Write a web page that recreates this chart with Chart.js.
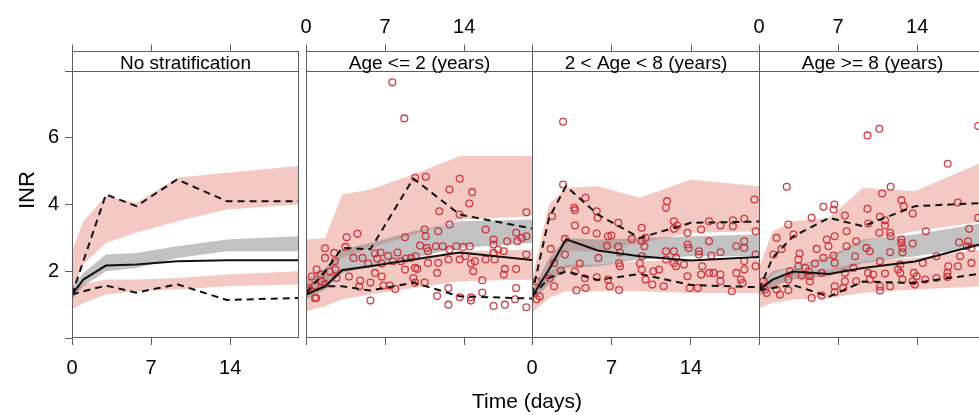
<!DOCTYPE html>
<html>
<head>
<meta charset="utf-8">
<script src="https://cdn.jsdelivr.net/npm/chart.js@4.4.1/dist/chart.umd.min.js"></script>
<style>
  html, body { margin: 0; padding: 0; background: #fff; overflow: hidden; }
  #wrap { position: relative; width: 979px; height: 415px; overflow: hidden;
          font-family: "Liberation Sans", Arial, sans-serif; }
  canvas { position: absolute; top: 0; }
  .ylab { position: absolute; left: 27px; top: 190px; transform: translate(-50%, -50%) rotate(-90deg);
          font-size: 22px; white-space: nowrap; }
  .xlab { position: absolute; left: 527px; top: 401px; transform: translate(-50%, -50%);
          font-size: 21px; white-space: nowrap; }
</style>
</head>
<body>
<div id="wrap">
  <canvas id="p1" width="338" height="415" style="left:0px"></canvas>
  <canvas id="p2" width="306" height="415" style="left:266px"></canvas>
  <canvas id="p3" width="307" height="415" style="left:492px"></canvas>
  <canvas id="p4" width="306" height="415" style="left:719px"></canvas>
  <div class="ylab">INR</div>
  <div class="xlab">Time (days)</div>
</div>
<script>
// axes
const xTicks = [0, 7, 14];
const yTicks = [0, 2, 4, 6, 8];
const yTickLabels = [2, 4, 6];
const panelTitles = ['No stratification', 'Age <= 2 (years)', '2 < Age < 8 (years)', 'Age >= 8 (years)'];

// ===== Panel 1: no stratification =====
const bins1 = [0, 1, 3, 5.7, 9.3, 13.7, 20];
const median1 = [1.3, 1.75, 2.17, 2.2, 2.3, 2.33, 2.33];
const p95obs1 = [1.3, 2.3, 4.3, 3.95, 4.75, 4.1, 4.1];
const p05obs1 = [1.3, 1.4, 1.57, 1.36, 1.61, 1.14, 1.2];
const piHiTop1 = [2.6, 3.5, 4.25, 4.05, 4.8, 4.95, 5.15];
const piHiBot1 = [1.4, 2.2, 2.85, 3.15, 3.5, 3.85, 4.0];
const ciMedTop1 = [1.5, 1.95, 2.5, 2.55, 2.75, 2.95, 3.05];
const ciMedBot1 = [1.15, 1.55, 2.0, 2.1, 2.4, 2.6, 2.6];
const piLoTop1 = [1.5, 1.6, 1.75, 1.75, 1.8, 1.9, 2.0];
const piLoBot1 = [0.85, 1.05, 1.3, 1.4, 1.45, 1.55, 1.6];
const obsDay1 = [];
const obsInr1 = [];

// ===== Panel 2: Age <= 2 =====
const bins2 = [0, 1.7, 3.2, 5.7, 9.5, 13.6, 20];
const median2 = [1.3, 1.55, 2.03, 2.15, 2.35, 2.56, 2.34];
const p95obs2 = [1.35, 2.0, 2.7, 2.66, 4.78, 3.7, 3.28];
const p05obs2 = [1.3, 1.55, 1.55, 1.42, 1.66, 1.25, 1.18];
const piHiTop2 = [2.95, 3.0, 4.3, 4.45, 4.9, 5.45, 5.45];
const piHiBot2 = [1.6, 1.9, 2.4, 2.7, 3.1, 3.55, 3.65];
const ciMedTop2 = [1.75, 2.1, 2.65, 2.85, 3.2, 3.5, 3.55];
const ciMedBot2 = [1.15, 1.45, 1.95, 2.15, 2.4, 2.7, 2.85];
const piLoTop2 = [1.6, 1.9, 2.1, 2.2, 2.4, 2.6, 2.65];
const piLoBot2 = [0.8, 0.95, 1.15, 1.3, 1.5, 1.7, 1.75];
const obsDay2 = [7.64, 8.7, 9.65, 3.6, 4.55, 1.68, 2.5, 3.5, 8.76, 0.94, 1.3, 1.68, 2.55, 2.6, 4.2, 5.0, 5.5, 6.1, 6.6, 6.3,
  6.7, 7.28, 7.7, 8.1, 8.4, 8.85, 9.3, 3.8, 4.8, 4.7, 5.7, 5.7, 6.7, 6.85, 7.4, 7.9, 2.7, 0.8, 0.9, 0.2,
  0.5, 6.1, 8.76, 9.5, 10.6, 13.6, 12.7, 14.7, 14.45, 11.8, 10.5, 12.7, 13.6, 15.9, 19.5, 11.7, 10.6, 10.1, 10.7, 10.8,
  11.5, 12.1, 12.7, 13.3, 13.9, 14.5, 14.95, 16.6, 16.6, 17.0, 17.8, 18.6, 19.1, 19.5, 18.7, 19.5, 17.5, 16.6, 15.9, 16.7,
  9.7, 9.65, 9.85, 10.8, 11.7, 12.6, 13.6, 14.6, 14.8, 14.1, 11.6, 15.6, 17.5, 18.6, 17.6, 18.6, 9.65, 10.5, 11.6, 12.6,
  12.6, 13.6, 14.6, 14.6, 15.6, 16.6, 17.6, 18.5, 19.5, 0.35, 0.8, 1.4, 1.68, 2.1];
const obsInr2 = [7.66, 6.58, 4.8, 3.02, 3.12, 2.69, 2.55, 2.73, 3.02, 2.05, 1.9, 1.62, 2.3, 2.05, 2.4, 2.4, 2.23, 2.53, 2.56, 2.38,
  2.23, 2.46, 2.3, 2.56, 2.3, 2.38, 2.4, 1.84, 1.72, 1.54, 1.66, 1.12, 1.84, 1.57, 1.57, 1.47, 1.8, 1.57, 1.2, 1.5,
  1.84, 1.95, 2.05, 1.8, 4.83, 4.77, 4.45, 4.37, 4.03, 3.8, 3.25, 3.4, 3.7, 3.25, 3.77, 3.2, 3.05, 2.77, 2.7, 2.6,
  2.75, 2.75, 2.65, 2.75, 2.73, 2.75, 2.3, 2.95, 2.8, 2.65, 2.9, 3.15, 3.0, 3.05, 2.9, 2.5, 2.6, 2.55, 2.35, 2.35,
  2.45, 2.1, 2.07, 2.25, 2.25, 2.35, 2.35, 2.23, 2.0, 2.45, 1.95, 1.73, 1.9, 2.07, 2.07, 1.5, 1.66, 1.66, 1.26, 1.5,
  1.0, 1.22, 1.22, 1.12, 1.36, 0.96, 1.0, 1.16, 0.92, 1.44, 1.19, 1.69, 2.4, 1.99];

// ===== Panel 3: 2 < Age < 8 =====
const bins3 = [0, 1.5, 3.0, 5.8, 9.5, 14, 20];
const median3 = [1.24, 2.05, 2.96, 2.62, 2.45, 2.32, 2.43];
const p95obs3 = [1.3, 3.6, 4.55, 3.7, 3.0, 3.45, 3.49];
const p05obs3 = [1.24, 1.8, 2.0, 1.74, 1.92, 1.59, 1.52];
const piHiTop3 = [1.75, 4.0, 4.5, 4.55, 4.2, 4.75, 4.55];
const piHiBot3 = [1.2, 2.0, 2.6, 2.6, 2.85, 3.15, 3.2];
const ciMedTop3 = [1.4, 2.4, 3.0, 2.95, 3.0, 3.05, 3.1];
const ciMedBot3 = [1.1, 1.6, 2.1, 2.15, 2.35, 2.45, 2.45];
const piLoTop3 = [1.4, 2.0, 2.2, 2.2, 2.3, 2.35, 2.35];
const piLoBot3 = [0.75, 1.2, 1.4, 1.4, 1.4, 1.35, 1.35];
const obsDay3 = [2.74, 2.74, 4.72, 3.72, 3.78, 1.77, 5.7, 5.78, 3.78, 4.72, 5.7, 2.9, 6.7, 7.0, 7.6, 6.6, 7.6, 7.75, 5.85, 4.2,
  2.9, 1.65, 1.95, 2.54, 1.56, 1.95, 3.78, 4.66, 5.7, 6.7, 6.85, 3.92, 4.72, 7.67, 7.67, 7.75, 8.8, 9.67, 9.67, 9.5,
  9.67, 0.4, 0.68, 0.4, 11.9, 11.8, 10.0, 9.9, 9.7, 10.0, 10.6, 10.7, 11.2, 11.6, 11.8, 11.8, 12.5, 12.8, 12.5, 12.5,
  12.7, 12.5, 12.7, 13.4, 13.7, 13.7, 13.8, 13.7, 13.9, 14.6, 14.7, 14.7, 14.9, 15.0, 14.9, 15.6, 15.6, 15.8, 15.6, 16.0,
  16.6, 16.6, 16.6, 16.6, 17.7, 17.7, 17.6, 18.0, 18.0, 18.7, 18.7, 18.7, 18.7, 18.7, 19.6, 19.7, 19.7, 19.7, 18.4, 18.55];
const obsInr3 = [6.48, 4.6, 4.2, 3.9, 3.83, 3.65, 3.8, 3.6, 3.37, 3.23, 3.13, 2.97, 3.05, 3.07, 3.45, 2.76, 2.74, 2.56, 2.4, 2.23,
  2.5, 2.67, 2.25, 2.02, 1.79, 1.55, 1.99, 1.79, 1.82, 1.75, 1.55, 1.43, 1.5, 1.44, 2.24, 2.15, 2.97, 3.3, 2.9, 2.23,
  2.05, 1.69, 1.24, 1.16, 4.1, 3.9, 3.0, 2.75, 2.45, 1.75, 1.6, 2.0, 2.05, 1.55, 2.6, 2.35, 3.5, 3.37, 3.27, 2.6,
  2.4, 2.25, 2.15, 2.2, 3.15, 2.8, 2.7, 1.85, 1.5, 1.5, 2.6, 2.5, 1.9, 2.15, 3.25, 3.5, 2.9, 2.47, 1.95, 1.95,
  3.37, 2.57, 1.9, 1.7, 3.53, 3.35, 1.4, 2.75, 1.95, 3.57, 2.9, 2.7, 2.3, 2.05, 4.15, 3.2, 2.5, 2.15, 1.75, 1.65];

// ===== Panel 4: Age >= 8 =====
const bins4 = [0, 1.2, 3.0, 6.2, 9.2, 13.8, 20];
const median4 = [1.44, 1.75, 1.99, 1.92, 2.1, 2.29, 2.85];
const p95obs4 = [1.44, 2.4, 3.04, 3.6, 3.35, 3.95, 4.05];
const p05obs4 = [1.44, 1.5, 1.59, 1.24, 1.69, 1.65, 1.95];
const piHiTop4 = [2.1, 3.2, 3.5, 3.6, 4.5, 4.4, 5.3];
const piHiBot4 = [1.5, 1.9, 2.15, 2.35, 2.9, 3.2, 3.5];
const ciMedTop4 = [1.6, 2.0, 2.15, 2.45, 2.95, 3.1, 3.45];
const ciMedBot4 = [1.25, 1.55, 1.75, 1.85, 2.25, 2.45, 2.75];
const piLoTop4 = [1.6, 1.8, 1.95, 2.05, 2.3, 2.4, 2.65];
const piLoBot4 = [0.9, 1.05, 1.15, 1.2, 1.35, 1.45, 1.55];
const obsDay4 = [2.45, 5.7, 6.67, 6.6, 4.66, 7.6, 2.6, 1.56, 3.04, 6.7, 6.0, 6.15, 5.1, 7.75, 7.75, 8.6, 2.0, 1.27, 6.6, 5.7,
  6.7, 3.6, 3.48, 4.95, 3.48, 4.1, 4.4, 2.74, 2.6, 3.77, 4.5, 4.5, 5.55, 7.6, 8.35, 7.6, 7.45, 6.7, 6.7, 5.55,
  4.66, 1.56, 2.6, 1.85, 0.68, 0.4, 0.53, 8.5, 8.6, 9.65, 9.6, 10.65, 16.7, 10.9, 11.65, 12.6, 12.8, 13.6, 17.6, 19.4,
  19.4, 9.6, 9.67, 10.7, 11.15, 11.15, 10.65, 11.6, 11.65, 14.77, 12.6, 12.6, 12.7, 12.7, 13.6, 9.8, 11.6, 9.5, 10.7, 12.5,
  14.5, 15.7, 17.7, 17.8, 18.6, 18.5, 18.4, 18.8, 18.8, 17.6, 16.75, 16.67, 16.67, 10.1, 11.15, 12.3, 12.5, 13.7, 13.95, 14.7,
  15.7, 13.6, 12.7, 11.6, 10.7, 10.7, 9.8, 13.8];
const obsInr4 = [4.53, 3.93, 4.0, 3.85, 3.6, 3.67, 3.4, 3.0, 3.1, 3.05, 2.95, 2.75, 2.67, 2.75, 3.2, 2.9, 2.67, 2.5, 2.47, 2.4,
  2.25, 2.53, 2.35, 2.23, 2.15, 2.1, 2.0, 2.0, 1.75, 1.87, 1.85, 1.7, 1.95, 1.95, 2.1, 1.7, 1.5, 1.55, 1.37, 1.27,
  1.2, 1.45, 1.43, 1.3, 1.35, 1.7, 1.45, 2.45, 1.7, 1.95, 6.07, 6.27, 5.22, 4.33, 4.53, 4.13, 3.95, 3.73, 4.06, 6.35,
  3.6, 3.87, 3.43, 3.63, 3.53, 3.37, 3.15, 3.15, 3.05, 3.2, 2.95, 2.85, 2.7, 2.57, 2.83, 2.6, 2.57, 2.7, 2.3, 2.2,
  2.25, 2.45, 2.87, 2.45, 3.27, 2.9, 2.75, 2.7, 2.25, 2.15, 2.15, 1.95, 1.83, 1.9, 1.93, 2.05, 1.95, 1.95, 1.85, 1.75,
  1.8, 1.7, 1.75, 1.55, 1.55, 1.42, 1.75, 1.6];

const FONT = '"Liberation Sans", Arial, sans-serif';
const frameColor = '#5e5e5e';
const pink = '#f4c9c3';
const greyBand = 'rgba(120,120,120,0.45)';
const obsRed = 'rgba(205,42,50,0.9)';

const pts = (xs, ys) => xs.map((x, i) => ({ x: x, y: ys[i] }));

// strip, box, top ticks
const latticeFrame = {
  id: 'latticeFrame',
  afterDraw(chart, args, opts) {
    const { ctx, chartArea: a, scales: { x } } = chart;
    const L = Math.round(a.left) + 0.5, R = Math.round(a.right) + 0.5;
    const T = Math.round(a.top) + 0.5, B = Math.round(a.bottom) - 0.5;
    ctx.save();
    ctx.strokeStyle = frameColor;
    ctx.lineWidth = 1;
    ctx.fillStyle = '#fff';
    ctx.fillRect(L, T - 20, R - L, 20);
    ctx.strokeRect(L, T - 20, R - L, 20);
    ctx.strokeRect(L, T, R - L, B - T);
    xTicks.forEach(v => {
      const px = Math.round(x.getPixelForValue(v)) + 0.5;
      ctx.beginPath();
      ctx.moveTo(px, T - 20);
      ctx.lineTo(px, T - 27);
      ctx.stroke();
    });
    ctx.fillStyle = '#000';
    ctx.font = '19px ' + FONT;
    ctx.textAlign = 'center';
    ctx.textBaseline = 'alphabetic';
    ctx.fillText(opts.strip, (L + R) / 2, T - 3);
    if (opts.topLabels) {
      ctx.font = '20px ' + FONT;
      ctx.textBaseline = 'middle';
      xTicks.forEach(v => ctx.fillText(String(v), x.getPixelForValue(v), 27));
    }
    ctx.restore();
  }
};

function band(bins, top, bot, color, order) {
  return [
    { type: 'line', data: pts(bins, top), borderColor: 'transparent', borderWidth: 0, pointRadius: 0,
      fill: '+1', backgroundColor: color, order: order, tension: 0 },
    { type: 'line', data: pts(bins, bot), borderColor: 'transparent', borderWidth: 0, pointRadius: 0,
      fill: false, order: order, tension: 0 }
  ];
}

function makePanel(id, idx, bins, med, p95, p05, hiTop, hiBot, ciTop, ciBot, loTop, loBot, obsX, obsY) {
  const showY = idx === 0;
  const bottomLabels = idx === 0 || idx === 2;
  const datasets = [
    ...band(bins, hiTop, hiBot, pink, 6),
    ...band(bins, loTop, loBot, pink, 6),
    ...band(bins, ciTop, ciBot, greyBand, 5),
    { type: 'scatter', data: pts(obsX, obsY), pointRadius: 3.4, pointBorderWidth: 1.3,
      borderColor: obsRed, backgroundColor: 'transparent', order: 3 },
    { type: 'line', data: pts(bins, med), borderColor: '#111', borderWidth: 2, pointRadius: 0, fill: false, order: 1 },
    { type: 'line', data: pts(bins, p95), borderColor: '#111', borderWidth: 2, borderDash: [7, 5], pointRadius: 0, fill: false, order: 1 },
    { type: 'line', data: pts(bins, p05), borderColor: '#111', borderWidth: 2, borderDash: [7, 5], pointRadius: 0, fill: false, order: 1 }
  ];
  return new Chart(document.getElementById(id), {
    type: 'scatter',
    data: { datasets: datasets },
    options: {
      responsive: false,
      animation: false,
      events: [],
      layout: { padding: { top: 71, bottom: 0, left: showY ? 0 : 40, right: 40 } },
      plugins: {
        legend: { display: false },
        tooltip: { enabled: false },
        latticeFrame: { strip: panelTitles[idx], topLabels: idx === 1 || idx === 3 }
      },
      scales: {
        x: {
          type: 'linear', min: 0, max: 20, position: 'bottom',
          afterBuildTicks: a => { a.ticks = xTicks.map(v => ({ value: v })); },
          afterFit: a => { a.height = 77; },
          grid: { drawOnChartArea: false, drawTicks: true, tickLength: 7, color: frameColor, lineWidth: 1 },
          border: { display: false },
          ticks: { padding: 11, color: '#000', maxRotation: 0, font: { size: 20, family: FONT },
                   callback: v => bottomLabels ? String(v) : '' }
        },
        y: {
          type: 'linear', min: 0, max: 8, display: showY,
          afterBuildTicks: a => { a.ticks = yTicks.map(v => ({ value: v })); },
          afterFit: a => { a.width = showY ? 72 : 0; },
          grid: { drawOnChartArea: false, drawTicks: true, tickLength: 7, color: frameColor, lineWidth: 1 },
          border: { display: false },
          ticks: { padding: 6, color: '#000', font: { size: 20, family: FONT },
                   callback: v => yTickLabels.includes(v) ? String(v) : '' }
        }
      }
    },
    plugins: [latticeFrame]
  });
}

makePanel('p1', 0, bins1, median1, p95obs1, p05obs1, piHiTop1, piHiBot1, ciMedTop1, ciMedBot1, piLoTop1, piLoBot1, obsDay1, obsInr1);
makePanel('p2', 1, bins2, median2, p95obs2, p05obs2, piHiTop2, piHiBot2, ciMedTop2, ciMedBot2, piLoTop2, piLoBot2, obsDay2, obsInr2);
makePanel('p3', 2, bins3, median3, p95obs3, p05obs3, piHiTop3, piHiBot3, ciMedTop3, ciMedBot3, piLoTop3, piLoBot3, obsDay3, obsInr3);
makePanel('p4', 3, bins4, median4, p95obs4, p05obs4, piHiTop4, piHiBot4, ciMedTop4, ciMedBot4, piLoTop4, piLoBot4, obsDay4, obsInr4);
</script>
</body>
</html>
